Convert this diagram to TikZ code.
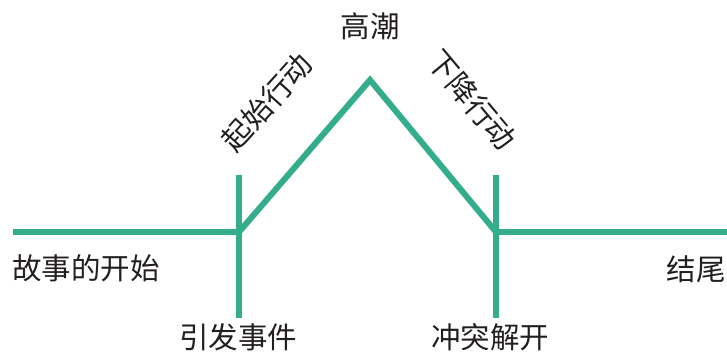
\documentclass[tikz,border=0pt]{standalone}
\usepackage{fontspec}
\newfontfamily\cjk{Noto Sans CJK SC}
\definecolor{teal1}{HTML}{34AD8C}
\definecolor{ink}{HTML}{231F20}
\begin{document}
\begin{tikzpicture}[x=1pt,y=-1pt,
  lbl/.style={font=\cjk\fontsize{29.5}{31}\selectfont, text=ink, inner sep=0pt},
  seg/.style={draw=teal1, line width=6pt}]
\useasboundingbox (0,0) rectangle (727,352);
\coordinate (L0) at (13,232);
\coordinate (A) at (239,232);
\coordinate (Atop) at (239,175);
\coordinate (Abot) at (239,318);
\coordinate (P) at (370,80);
\coordinate (B) at (496,232);
\coordinate (Btop) at (496,175);
\coordinate (Bbot) at (496,318);
\coordinate (R0) at (727,232);
\draw[seg] (L0) -- (A);
\draw[seg] (Atop) -- (Abot);
\draw[seg, line join=miter] (A) -- (P) -- (B);
\draw[seg] (Btop) -- (Bbot);
\draw[seg] (B) -- (R0);
\node[lbl, anchor=west] (start) at (12,268) {故事的开始};
\node[lbl, anchor=east] (end) at (726,269) {结尾};
\node[lbl] (inc) at (238,337) {引发事件};
\node[lbl] (res) at (490,337) {冲突解开};
\node[lbl] (cli) at (370,26) {高潮};
\node[lbl, rotate=48] (rise) at (267,102) {起始行动};
\node[lbl, rotate=-50] (fall) at (472,100) {下降行动};
\end{tikzpicture}
\end{document}
